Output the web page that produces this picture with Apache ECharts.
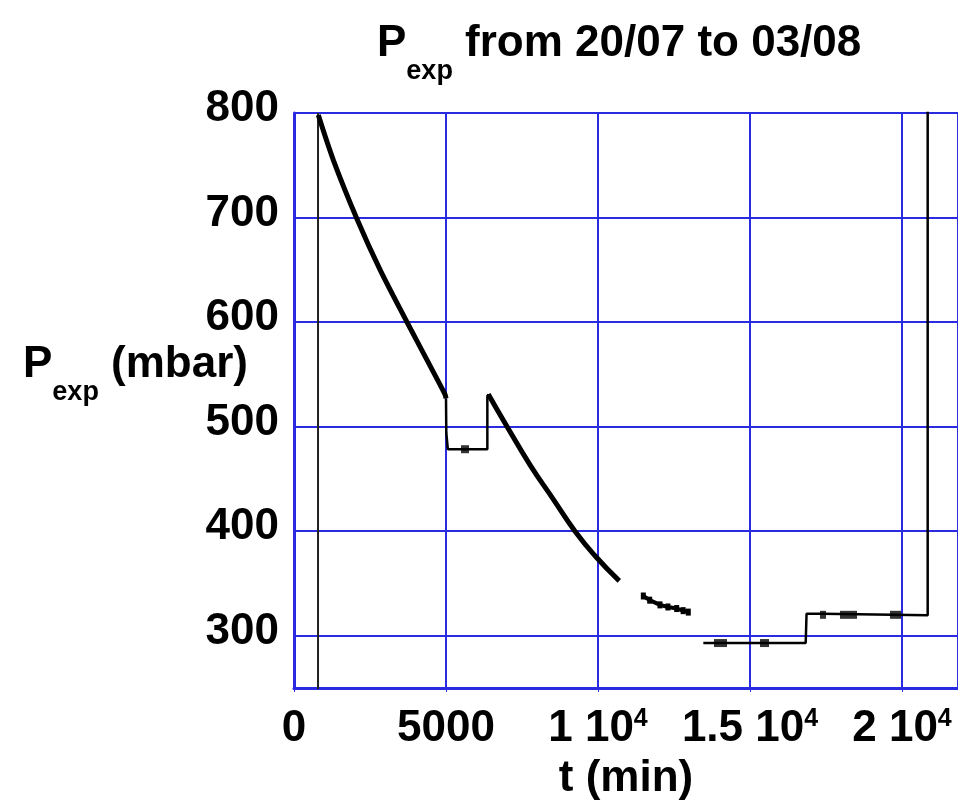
<!DOCTYPE html>
<html>
<head>
<meta charset="utf-8">
<script src="https://cdn.jsdelivr.net/npm/echarts@6/dist/echarts.min.js"></script>
<style>html,body{margin:0;padding:0;background:#fff}#c{width:958px;height:811px}</style>
</head>
<body>
<div id="c"></div>
<script>
// ---- data (t in min, P in mbar) ----
const edgeLeftT = [790, 790];
const edgeLeftP = [0, 800];
const decay1T = [800, 1294, 2061, 2829, 3706, 4364, 4967, 5000];
const decay1P = [798, 755, 699.4, 650.2, 600.6, 564.3, 530.9, 527];
const step1T = [5000, 5010, 5060, 6360, 6360, 6391];
const step1P = [527, 494, 478.4, 478.4, 528, 531];
const decay2T = [6391, 6997, 7763, 8531, 9243, 9901, 10700];
const decay2P = [531, 500.6, 463.5, 430.5, 400, 376.5, 352.5];
const dotsT = [11491, 11700, 12039, 12300, 12588, 12800, 12970];
const dotsP = [338, 334, 329.5, 327.5, 326, 324, 322.6];
const step2T = [13465, 16832, 16860, 17370, 17400, 20845, 20845];
const step2P = [293, 293, 321, 321, 319.5, 319.5, 900];
const blockT = [5625, 14030, 15477, 17401, 18240, 19786];
const blockP = [478.4, 293, 293, 320, 320, 320];
const blockW = [8, 13, 9, 6, 17, 11];
const xTicks = [0, 5000, 10000, 15000, 20000];
const xTickLabels = ['0', '5000', '{n|1 10}{s|4}', '{n|1.5 10}{s|4}', '{n|2 10}{s|4}'];
const yTicks = [300, 400, 500, 600, 700, 800];

const pair = (T, P) => T.map((t, i) => [t, P[i]]);
const FONT = '"Liberation Sans", Arial, sans-serif';
const BLUE = '#2a2ae0';
const FS = 44;
const richTitle = {
  p: {fontFamily: FONT, fontWeight: 'bold', fontSize: FS, lineHeight: FS, verticalAlign: 'top', color: '#000'},
  sub: {fontFamily: FONT, fontWeight: 'bold', fontSize: 27, lineHeight: 27, padding: [36, 0, 0, 0], verticalAlign: 'top', color: '#000'},
  t: {fontFamily: FONT, fontWeight: 'bold', fontSize: FS, lineHeight: FS, verticalAlign: 'top', color: '#000'}
};

const chart = echarts.init(document.getElementById('c'), null, {renderer: 'canvas'});
chart.setOption({
  animation: false,
  backgroundColor: '#fff',
  title: [{
    text: '{p|P}{sub|exp}{t| from 20/07 to 03/08}',
    left: 372, top: 17,
    textStyle: {fontFamily: FONT, fontWeight: 'bold', color: '#000', rich: richTitle}
  }, {
    text: '{p|P}{sub|exp}{t| (mbar)}',
    left: 18, top: 338,
    textStyle: {fontFamily: FONT, fontWeight: 'bold', color: '#000', rich: richTitle}
  }],
  grid: {left: 294, top: 113, bottom: 123, right: 0, containLabel: false},
  xAxis: {
    type: 'value', min: 0, max: 21842, interval: 5000,
    name: 't (min)', nameLocation: 'middle', nameGap: 69,
    nameTextStyle: {fontFamily: FONT, fontWeight: 'bold', fontSize: FS, color: '#000'},
    axisLine: {show: true, onZero: false, lineStyle: {color: BLUE, width: 3}},
    axisTick: {show: true, inside: false, length: 4, lineStyle: {color: BLUE, width: 1}},
    splitLine: {show: true, lineStyle: {color: BLUE, width: 2}},
    axisLabel: {
      margin: 19, showMaxLabel: false,
      fontFamily: FONT, fontWeight: 'bold', fontSize: FS, color: '#000',
      formatter: v => { const i = xTicks.indexOf(v); return i >= 0 ? xTickLabels[i] : ''; },
      rich: {
        n: {fontFamily: FONT, fontWeight: 'bold', fontSize: FS, lineHeight: FS, color: '#000'},
        s: {fontFamily: FONT, fontWeight: 'bold', fontSize: 25, lineHeight: 25, verticalAlign: 'top', color: '#000'}
      }
    }
  },
  yAxis: {
    type: 'value', min: 250, max: 800, splitNumber: 5,
    axisLine: {show: true, lineStyle: {color: BLUE, width: 3}},
    axisTick: {show: true, inside: true, length: 4, lineStyle: {color: BLUE, width: 1}},
    splitLine: {show: true, lineStyle: {color: BLUE, width: 2}},
    axisLabel: {
      margin: 15, verticalAlign: 'bottom', lineHeight: 8,
      fontFamily: FONT, fontWeight: 'bold', fontSize: FS, color: '#000',
      formatter: v => (yTicks.indexOf(v) >= 0 ? String(v) : '')
    }
  },
  series: [
    {type: 'line', data: pair(edgeLeftT, edgeLeftP), symbol: 'none', clip: true,
     lineStyle: {color: '#222', width: 2}},
    {type: 'line', data: pair(decay1T, decay1P), symbol: 'none', smooth: 0.3, clip: true,
     lineStyle: {color: '#000', width: 5}},
    {type: 'line', data: pair(step1T, step1P), symbol: 'none', clip: true,
     lineStyle: {color: '#000', width: 2.5}},
    {type: 'line', data: pair(decay2T, decay2P), symbol: 'none', smooth: 0.5, clip: true,
     lineStyle: {color: '#000', width: 5}},
    {type: 'line', data: pair(dotsT, dotsP), symbol: 'rect', symbolSize: [5, 7], clip: true,
     itemStyle: {color: '#000'}, lineStyle: {color: '#000', width: 4}},
    {type: 'line', data: pair(step2T, step2P), symbol: 'none', clip: true,
     lineStyle: {color: '#000', width: 2.5}},
    {type: 'scatter', data: pair(blockT, blockP), symbol: 'rect', clip: true,
     symbolSize: (val, p) => [blockW[p.dataIndex], 8],
     itemStyle: {color: '#000'}}
  ]
});
</script>
</body>
</html>
